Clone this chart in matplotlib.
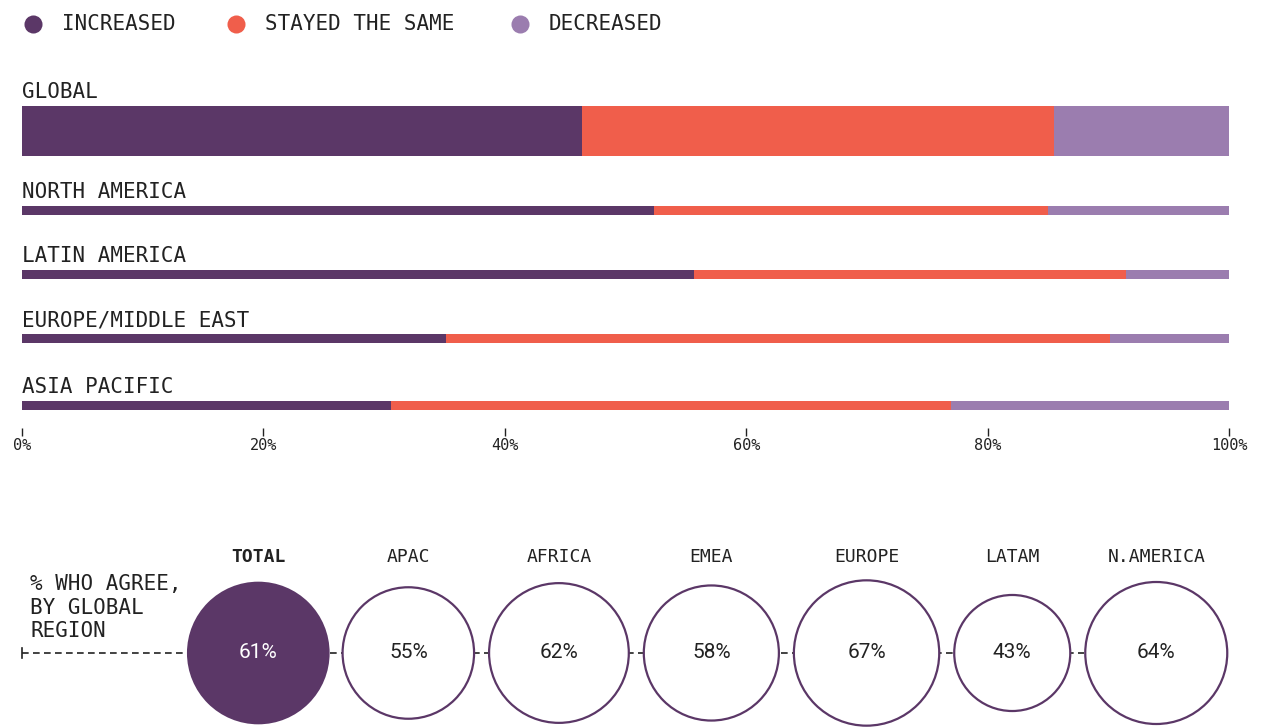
import matplotlib.pyplot as plt
from matplotlib.patches import Circle
import numpy as np

W, H = 1267, 728
MONO = "DejaVu Sans Mono"
INK = "#222222"

# stacked bar data (% of respondents)
regions = ["GLOBAL", "NORTH AMERICA", "LATIN AMERICA", "EUROPE/MIDDLE EAST", "ASIA PACIFIC"]
increased = [46.4, 52.4, 55.7, 35.1, 30.6]
stayed = [39.1, 32.6, 35.8, 55.0, 46.4]
decreased = [14.5, 15.0, 8.5, 9.9, 23.0]
series_names = ["INCREASED", "STAYED THE SAME", "DECREASED"]
colors = ["#5B3767", "#F05E4B", "#9B7DAF"]
ticks = [0, 20, 40, 60, 80, 100]

# circle row data
agree_labels = ["TOTAL", "APAC", "AFRICA", "EMEA", "EUROPE", "LATAM", "N.AMERICA"]
agree_values = [61, 55, 62, 58, 67, 43, 64]

fig = plt.figure(figsize=(W / 100, H / 100), dpi=100)

# overlay axes in pixel units for legend and circle row
ov = fig.add_axes([0, 0, 1, 1])
ov.set_xlim(0, W)
ov.set_ylim(H, 0)
ov.axis("off")

# bar axes: y in pixel units too
top, bot = 80, 428
ax = fig.add_axes([22 / W, (H - bot) / H, 1207 / W, (bot - top) / H])
ax.set_ylim(bot, top)
ax.set_xlim(0, 100)
ax.patch.set_visible(False)

row_y = [131, 210.5, 274.5, 338.5, 405.5]
row_h = [50, 9, 9, 9, 9]

left = np.zeros(len(regions))
for vals, c in zip([increased, stayed, decreased], colors):
    ax.barh(row_y, vals, height=row_h, left=left, color=c, linewidth=0)
    left += np.array(vals)

for name, y, h in zip(regions, row_y, row_h):
    ax.text(0, y - h / 2 - 8, name, fontsize=15, family=MONO, color=INK,
            va="baseline", ha="left")

for s in ax.spines.values():
    s.set_visible(False)
ax.set_yticks([])
ax.set_xticks(ticks)
ax.set_xticklabels([f"{t}%" for t in ticks], family=MONO)
ax.tick_params(axis="x", length=6, width=1, color=INK, labelsize=11,
               labelcolor=INK, pad=1)

# legend
leg_x = [33, 236, 520]
for x, name, c in zip(leg_x, series_names, colors):
    ov.plot(x, 24, "o", ms=13, color=c, mec="none")
    ov.text(x + 29, 24, name, fontsize=15, family=MONO, color=INK, va="center")

# circle row: area proportional to value
cy = 653
radii = [9.0 * np.sqrt(v) for v in agree_values]
gap = 13
centers = []
x = 188
for r in radii:
    centers.append(x + r)
    x += 2 * r + gap

ov.plot([22, centers[-1] - radii[-1]], [cy, cy], color=INK, lw=1.2,
        ls=(0, (4, 2.6)), zorder=1)
ov.plot([22, 22], [cy - 5, cy + 5], color=INK, lw=1.2, zorder=1)

ov.text(30, 574, "% WHO AGREE,\nBY GLOBAL\nREGION", fontsize=15, family=MONO,
        color=INK, va="top", ha="left", linespacing=1.22)

for i, (lab, v, cx, r) in enumerate(zip(agree_labels, agree_values, centers, radii)):
    if i == 0:
        ov.add_patch(Circle((cx, cy), r, facecolor=colors[0], edgecolor=colors[0], lw=1.5, zorder=2))
        tc = "white"
    else:
        ov.add_patch(Circle((cx, cy), r - 1, facecolor="white", edgecolor=colors[0], lw=1.6, zorder=2))
        tc = INK
    ov.text(cx, cy, f"{v}%", fontsize=15, family="Roboto", color=tc,
            ha="center", va="center", zorder=3)
    ov.text(cx, 557, lab, fontsize=13, family=MONO, color=INK, ha="center",
            va="center", fontweight="bold" if i == 0 else "normal")

fig.savefig("out.png", dpi=100)
